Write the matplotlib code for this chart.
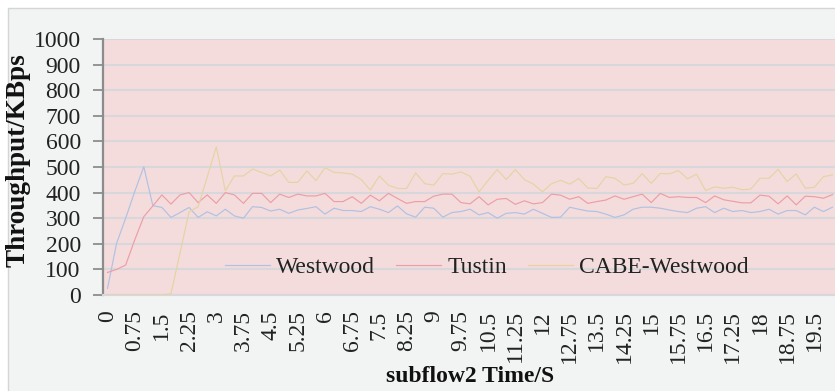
import matplotlib
matplotlib.use("Agg")
import matplotlib.pyplot as plt
import matplotlib.patches as mpatches

#------------------------------------------
#Data (KBps, every 0.25s)
#------------------------------------------
time_s = [i * 0.25 for i in range(81)]

westwood = [26, 202, 300, 404, 501, 349, 342, 303, 322, 342,
            303, 325, 309, 335, 309, 300, 345, 342, 328, 335,
            319, 332, 338, 345, 316, 339, 330, 330, 326, 345,
            335, 322, 348, 317, 304, 343, 339, 304, 322, 326,
            335, 313, 322, 300, 319, 322, 316, 335, 319, 303,
            304, 343, 335, 328, 326, 316, 303, 313, 335, 343,
            343, 339, 332, 326, 322, 339, 345, 322, 339, 326,
            330, 322, 326, 335, 316, 330, 330, 313, 343, 326,
            343]

tustin = [88, 100, 117, 215, 306, 348, 391, 355, 391, 400,
          361, 391, 358, 400, 391, 358, 397, 397, 361, 394,
          381, 394, 387, 387, 397, 365, 365, 384, 358, 390,
          368, 397, 377, 358, 365, 365, 386, 394, 394, 361,
          356, 384, 352, 374, 377, 354, 368, 356, 361, 394,
          390, 374, 384, 358, 365, 371, 387, 374, 384, 394,
          361, 397, 381, 384, 381, 381, 361, 387, 372, 366,
          360, 360, 390, 386, 356, 387, 352, 386, 384, 378,
          392]

cabe_westwood = [0, 0, 0, 0, 0, 0, 0, 5, 165, 325,
                 345, 461, 579, 407, 465, 465, 492, 479, 465, 488,
                 440, 440, 485, 447, 497, 479, 477, 472, 451, 410,
                 465, 429, 416, 416, 477, 435, 429, 474, 472, 481,
                 464, 403, 448, 490, 451, 490, 451, 433, 403, 435,
                 448, 433, 455, 418, 416, 462, 456, 430, 436, 474,
                 436, 475, 473, 486, 454, 472, 408, 422, 417, 421,
                 411, 414, 456, 456, 491, 443, 473, 417, 421, 462,
                 469]

series_names = ["Westwood", "Tustin", "CABE-Westwood"]
series_colors = ["#b0c1e2", "#ec9ea6", "#e5d3a4"]

#-------------
#Set up figure
#-------------
plt.rcParams["font.family"] = ["Liberation Serif", "DejaVu Serif"]
fig = plt.figure(figsize=(8.35, 3.91), dpi=100)
fig.patch.set_facecolor("white")
chart_bg = mpatches.Rectangle((8 / 835, -0.01), 1.0, 1 - 8 / 391 + 0.01,
                              transform=fig.transFigure, facecolor="#f2f3f3",
                              edgecolor="#d5d5d5", linewidth=1.0, zorder=-10)
fig.add_artist(chart_bg)

ax = fig.add_axes([103 / 835, 96 / 391, 734 / 835, 256 / 391])
ax.set_facecolor("#f4dcdd")

idx = list(range(len(time_s)))
for vals, name, col in zip([westwood, tustin, cabe_westwood], series_names, series_colors):
    ax.plot(idx, vals, color=col, linewidth=0.85, label=name, zorder=3)

ax.set_xlim(-0.5, len(time_s) - 0.5)
ax.set_ylim(0, 1000)
ax.set_yticks(range(0, 1001, 100))
ax.set_xticks(idx[::3])
ax.set_xticklabels(["{:g}".format(t) for t in time_s[::3]], rotation=90, va="top")
ax.tick_params(axis="y", labelsize=17, length=7, width=1.3, color="#8c8c8c", pad=9,
               labelcolor="#222222")
ax.tick_params(axis="x", labelsize=17, length=0, pad=11, labelcolor="#222222")

ax.grid(axis="y", color="#d8d8dc", linewidth=1.5, zorder=1)
ax.set_axisbelow(True)
for s in ["top", "right"]:
    ax.spines[s].set_visible(False)
ax.spines["left"].set_color("#8c8c8c")
ax.spines["left"].set_linewidth(1.6)
ax.spines["bottom"].set_color("#d8d8dc")
ax.spines["bottom"].set_linewidth(1.5)

#------
#Labels
#------
fig.text(470 / 835, 1 - 376 / 391, "subflow2 Time/S", fontsize=17, fontweight="bold",
         ha="center", va="center", color="#111111")
fig.text(18 / 835, 1 - 160 / 391, "Throughput/KBps", fontsize=19.5, fontweight="bold",
         ha="center", va="center", rotation=90, color="#111111")

ax.legend(loc="center", bbox_to_anchor=(0.523, 0.109), ncol=3, frameon=False,
          fontsize=17, handlelength=1.9, handletextpad=0.25, columnspacing=0.9,
          labelcolor="#222222")

fig.savefig("out.png", dpi=100, facecolor=fig.get_facecolor())
